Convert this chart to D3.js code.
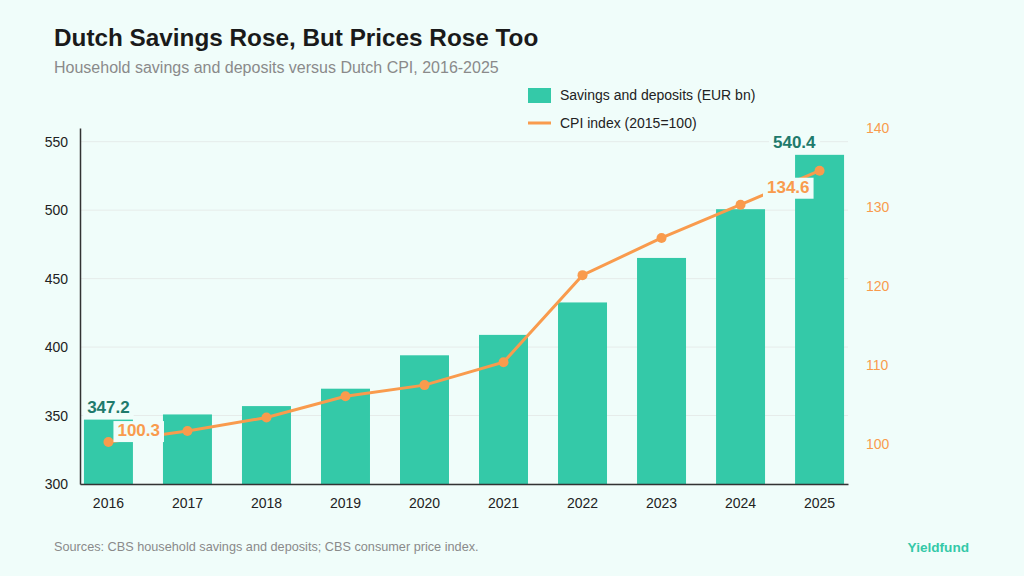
<!DOCTYPE html>
<html>
<head>
<meta charset="utf-8">
<script src="https://cdn.jsdelivr.net/npm/d3@7"></script>
<style>
  body { margin: 0; background: #f0fdfa; }
  svg { display: block; font-family: "Liberation Sans", Arial, sans-serif; }
</style>
</head>
<body>
<svg id="chart" width="1024" height="576"></svg>
<script>
const years = ["2016", "2017", "2018", "2019", "2020", "2021", "2022", "2023", "2024", "2025"];
const savings = [347.2, 350.8, 356.9, 369.6, 394.0, 408.9, 432.6, 465.1, 500.7, 540.4];
const cpi = [100.3, 101.7, 103.4, 106.1, 107.5, 110.4, 121.4, 126.1, 130.3, 134.6];
const leftTicks = [300, 350, 400, 450, 500, 550];
const rightTicks = [100, 110, 120, 130, 140];

const bg = "#f0fdfa", barColor = "#34c9a8", lineColor = "#f99b4d", labelTeal = "#1f7a6c";

const svg = d3.select("#chart");
svg.append("rect").attr("width", 1024).attr("height", 576).attr("fill", bg);

const plotL = 80, plotR = 848, plotT = 128, plotB = 484;

const x = d3.scaleBand().domain(years).range([plotL, plotR]).paddingInner(0.38).paddingOuter(0.05);
const y = d3.scaleLinear().domain([300, 560]).range([plotB, plotT]);
const y2 = d3.scaleLinear().domain([95, 140]).range([plotB, plotT]);

// title
svg.append("text").attr("x", 54).attr("y", 46).attr("font-size", 24.3).attr("font-weight", "bold")
    .attr("fill", "#1a1a1a").text("Dutch Savings Rose, But Prices Rose Too");
svg.append("text").attr("x", 54).attr("y", 73).attr("font-size", 16).attr("fill", "#8a8a8a")
    .text("Household savings and deposits versus Dutch CPI, 2016-2025");

// gridlines
svg.append("g").selectAll("line").data(leftTicks).enter().append("line")
    .attr("x1", plotL).attr("x2", plotR)
    .attr("y1", d => y(d)).attr("y2", d => y(d))
    .attr("stroke", "#e6ecea").attr("stroke-width", 1);

// bars
svg.append("g").selectAll("rect").data(savings).enter().append("rect")
    .attr("x", (d, i) => x(years[i]))
    .attr("y", d => y(d))
    .attr("width", x.bandwidth())
    .attr("height", d => plotB - y(d))
    .attr("fill", barColor);

// left axis
const gl = svg.append("g").attr("transform", `translate(${plotL},0)`)
    .call(d3.axisLeft(y).tickValues(leftTicks).tickSize(0).tickPadding(12));
gl.select(".domain").attr("stroke", "#333").attr("stroke-width", 1.5);
gl.selectAll("text").attr("font-size", 14).attr("fill", "#222").attr("font-family", "Liberation Sans, Arial, sans-serif");

// bottom axis
const gb = svg.append("g").attr("transform", `translate(0,${plotB})`)
    .call(d3.axisBottom(x).tickSize(0).tickPadding(14));
gb.select(".domain").attr("stroke", "#333").attr("stroke-width", 1.5);
gb.selectAll("text").attr("font-size", 14).attr("fill", "#222").attr("font-family", "Liberation Sans, Arial, sans-serif");

// right axis
const gr = svg.append("g").attr("transform", `translate(${plotR + 18},0)`)
    .call(d3.axisRight(y2).tickValues(rightTicks).tickSize(0).tickPadding(0));
gr.select(".domain").remove();
gr.selectAll("text").attr("font-size", 14).attr("fill", lineColor).attr("font-family", "Liberation Sans, Arial, sans-serif");

// CPI line
const cx = (d, i) => x(years[i]) + x.bandwidth() / 2;
const line = d3.line().x(cx).y(d => y2(d));
svg.append("path").datum(cpi).attr("d", line).attr("fill", "none")
    .attr("stroke", lineColor).attr("stroke-width", 3);
svg.append("g").selectAll("circle").data(cpi).enter().append("circle")
    .attr("cx", cx).attr("cy", d => y2(d)).attr("r", 5).attr("fill", lineColor);

// value labels with background boxes
function boxLabel(tx, ty, anchor, txt, color) {
    const g = svg.append("g");
    const r = g.append("rect").attr("fill", bg);
    const t = g.append("text").attr("x", tx).attr("y", ty).attr("text-anchor", anchor)
        .attr("font-size", 17).attr("font-weight", "bold").attr("fill", color).text(txt);
    const b = t.node().getBBox();
    r.attr("x", b.x - 4).attr("y", b.y).attr("width", b.width + 8).attr("height", b.height + 2);
}
const n = years.length - 1;
boxLabel(cx(savings[0], 0), y(savings[0]) - 6, "middle", savings[0].toFixed(1), labelTeal);
boxLabel(cx(savings[n], n) - 4, y(savings[n]) - 7, "end", savings[n].toFixed(1), labelTeal);
boxLabel(cx(cpi[0], 0) + 9, y2(cpi[0]) - 6, "start", cpi[0].toFixed(1), lineColor);
boxLabel(cx(cpi[n], n) - 10, y2(cpi[n]) + 22, "end", cpi[n].toFixed(1), lineColor);

// legend
const lg = svg.append("g").attr("transform", "translate(528,88)");
lg.append("rect").attr("width", 23).attr("height", 15).attr("fill", barColor);
lg.append("text").attr("x", 32).attr("y", 12).attr("font-size", 14).attr("fill", "#222")
    .text("Savings and deposits (EUR bn)");
lg.append("line").attr("x1", 0).attr("x2", 23).attr("y1", 35).attr("y2", 35)
    .attr("stroke", lineColor).attr("stroke-width", 3);
lg.append("text").attr("x", 32).attr("y", 40).attr("font-size", 14).attr("fill", "#222")
    .text("CPI index (2015=100)");

// footer
svg.append("text").attr("x", 54).attr("y", 551).attr("font-size", 12.7).attr("fill", "#8a8a8a")
    .text("Sources: CBS household savings and deposits; CBS consumer price index.");
svg.append("text").attr("x", 969).attr("y", 552).attr("text-anchor", "end").attr("font-size", 13.6)
    .attr("font-weight", "bold").attr("fill", barColor).text("Yieldfund");
</script>
</body>
</html>
